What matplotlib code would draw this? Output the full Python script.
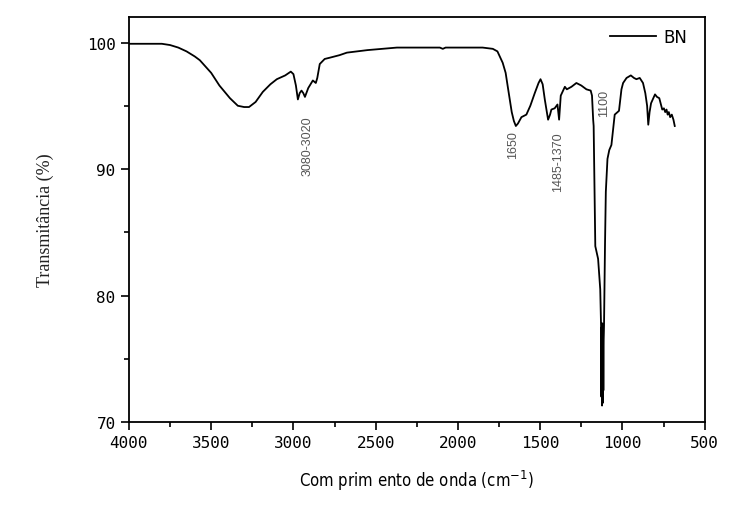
import matplotlib
matplotlib.use("Agg")
import matplotlib.pyplot as plt
from matplotlib.ticker import MultipleLocator

# FTIR spectrum of BN: wavenumber (cm^-1) and transmittance (%)
wavenumber = [4000, 3900, 3800, 3750, 3700, 3650, 3600, 3569, 3500, 3450, 3386, 3338,
              3300, 3270, 3230, 3186, 3140, 3101, 3050, 3016, 3000, 2985, 2973, 2962,
              2951, 2940, 2930, 2910, 2882, 2864, 2855, 2840, 2810, 2779, 2720, 2675,
              2550, 2371, 2200, 2110, 2092, 2075, 1970, 1850, 1788, 1760, 1728, 1710,
              1697, 1673, 1660, 1648, 1635, 1614, 1584, 1560, 1533, 1510, 1498, 1485,
              1472, 1452, 1440, 1432, 1412, 1395, 1385, 1375, 1350, 1338, 1310, 1280,
              1250, 1219, 1193, 1185, 1178, 1175, 1165, 1148, 1135, 1130, 1128, 1126,
              1124, 1122, 1120, 1118, 1116, 1114, 1112, 1106, 1101, 1091, 1080, 1067,
              1047, 1021, 1006, 996, 975, 949, 930, 915, 895, 875, 861, 850, 843, 835,
              826, 802, 790, 776, 758, 748, 740, 732, 725, 718, 710, 700, 690, 682]
transmittance = [99.9, 99.9, 99.9, 99.8, 99.6, 99.3, 98.9, 98.6, 97.6, 96.6, 95.6, 95.0,
                 94.9, 94.9, 95.3, 96.1, 96.7, 97.1, 97.4, 97.7, 97.5, 96.6, 95.5, 96.0,
                 96.2, 96.0, 95.7, 96.4, 97.0, 96.8, 97.2, 98.3, 98.7, 98.8, 99.0, 99.2,
                 99.4, 99.6, 99.6, 99.6, 99.5, 99.6, 99.6, 99.6, 99.5, 99.3, 98.4, 97.6,
                 96.5, 94.5, 93.8, 93.4, 93.6, 94.1, 94.3, 95.0, 96.0, 96.8, 97.1, 96.7,
                 95.5, 93.9, 94.3, 94.7, 94.8, 95.1, 93.9, 95.8, 96.5, 96.3, 96.5, 96.8,
                 96.6, 96.3, 96.2, 95.8, 93.9, 93.4, 83.9, 82.9, 80.5, 77.6, 72.0, 77.5,
                 71.3, 77.8, 71.5, 77.0, 72.5, 76.5, 77.6, 84.0, 88.2, 90.8, 91.5, 91.9,
                 94.3, 94.6, 96.3, 96.8, 97.2, 97.4, 97.2, 97.1, 97.2, 96.8, 96.0, 95.0,
                 93.5, 94.5, 95.2, 95.9, 95.7, 95.6, 94.7, 94.8, 94.5, 94.7, 94.3, 94.5,
                 94.1, 94.3, 93.9, 93.4]

# Band assignments written next to the peaks
band_labels = ["3080-3020", "1650", "1485-1370", "1100"]
band_positions = [2912, 1667, 1393, 1114]
band_heights = [91.9, 92.0, 90.6, 95.3]

fig = plt.figure(figsize=(7.41, 5.06), dpi=100)
ax = fig.add_axes([0.174, 0.164, 0.777, 0.800])

ax.plot(wavenumber, transmittance, color="black", lw=1.3, label="BN")

for text, wn, h in zip(band_labels, band_positions, band_heights):
    ax.text(wn, h, text, rotation=90, ha="center", va="center",
            fontsize=9, color="#555555", family="Liberation Sans")

ax.set_xlim(4000, 500)
ax.set_ylim(70, 102)
ax.xaxis.set_major_locator(MultipleLocator(500))
ax.xaxis.set_minor_locator(MultipleLocator(250))
ax.yaxis.set_major_locator(MultipleLocator(10))
ax.yaxis.set_minor_locator(MultipleLocator(5))
ax.tick_params(which="both", direction="out", top=False, right=False)
ax.tick_params(which="major", length=6, width=1.2, labelsize=11.5)
ax.tick_params(which="minor", length=3.5, width=1.2)
for lbl in ax.get_xticklabels() + ax.get_yticklabels():
    lbl.set_family("DejaVu Sans Mono")
for sp in ax.spines.values():
    sp.set_linewidth(1.3)

ax.set_ylabel("Transmitância (%)", family="Liberation Serif", fontsize=13,
              color="#222222", labelpad=24)
ax.set_xlabel("Com prim ento de onda (cm$^{-1}$)", family="DejaVu Sans",
              fontsize=12, labelpad=13, fontstretch="condensed")

leg = ax.legend(loc="upper right", frameon=False, handlelength=2.8,
                handletextpad=0.4,
                prop={"family": "DejaVu Sans", "size": 12},
                bbox_to_anchor=(0.995, 1.01))

fig.savefig("out.png", dpi=100)
